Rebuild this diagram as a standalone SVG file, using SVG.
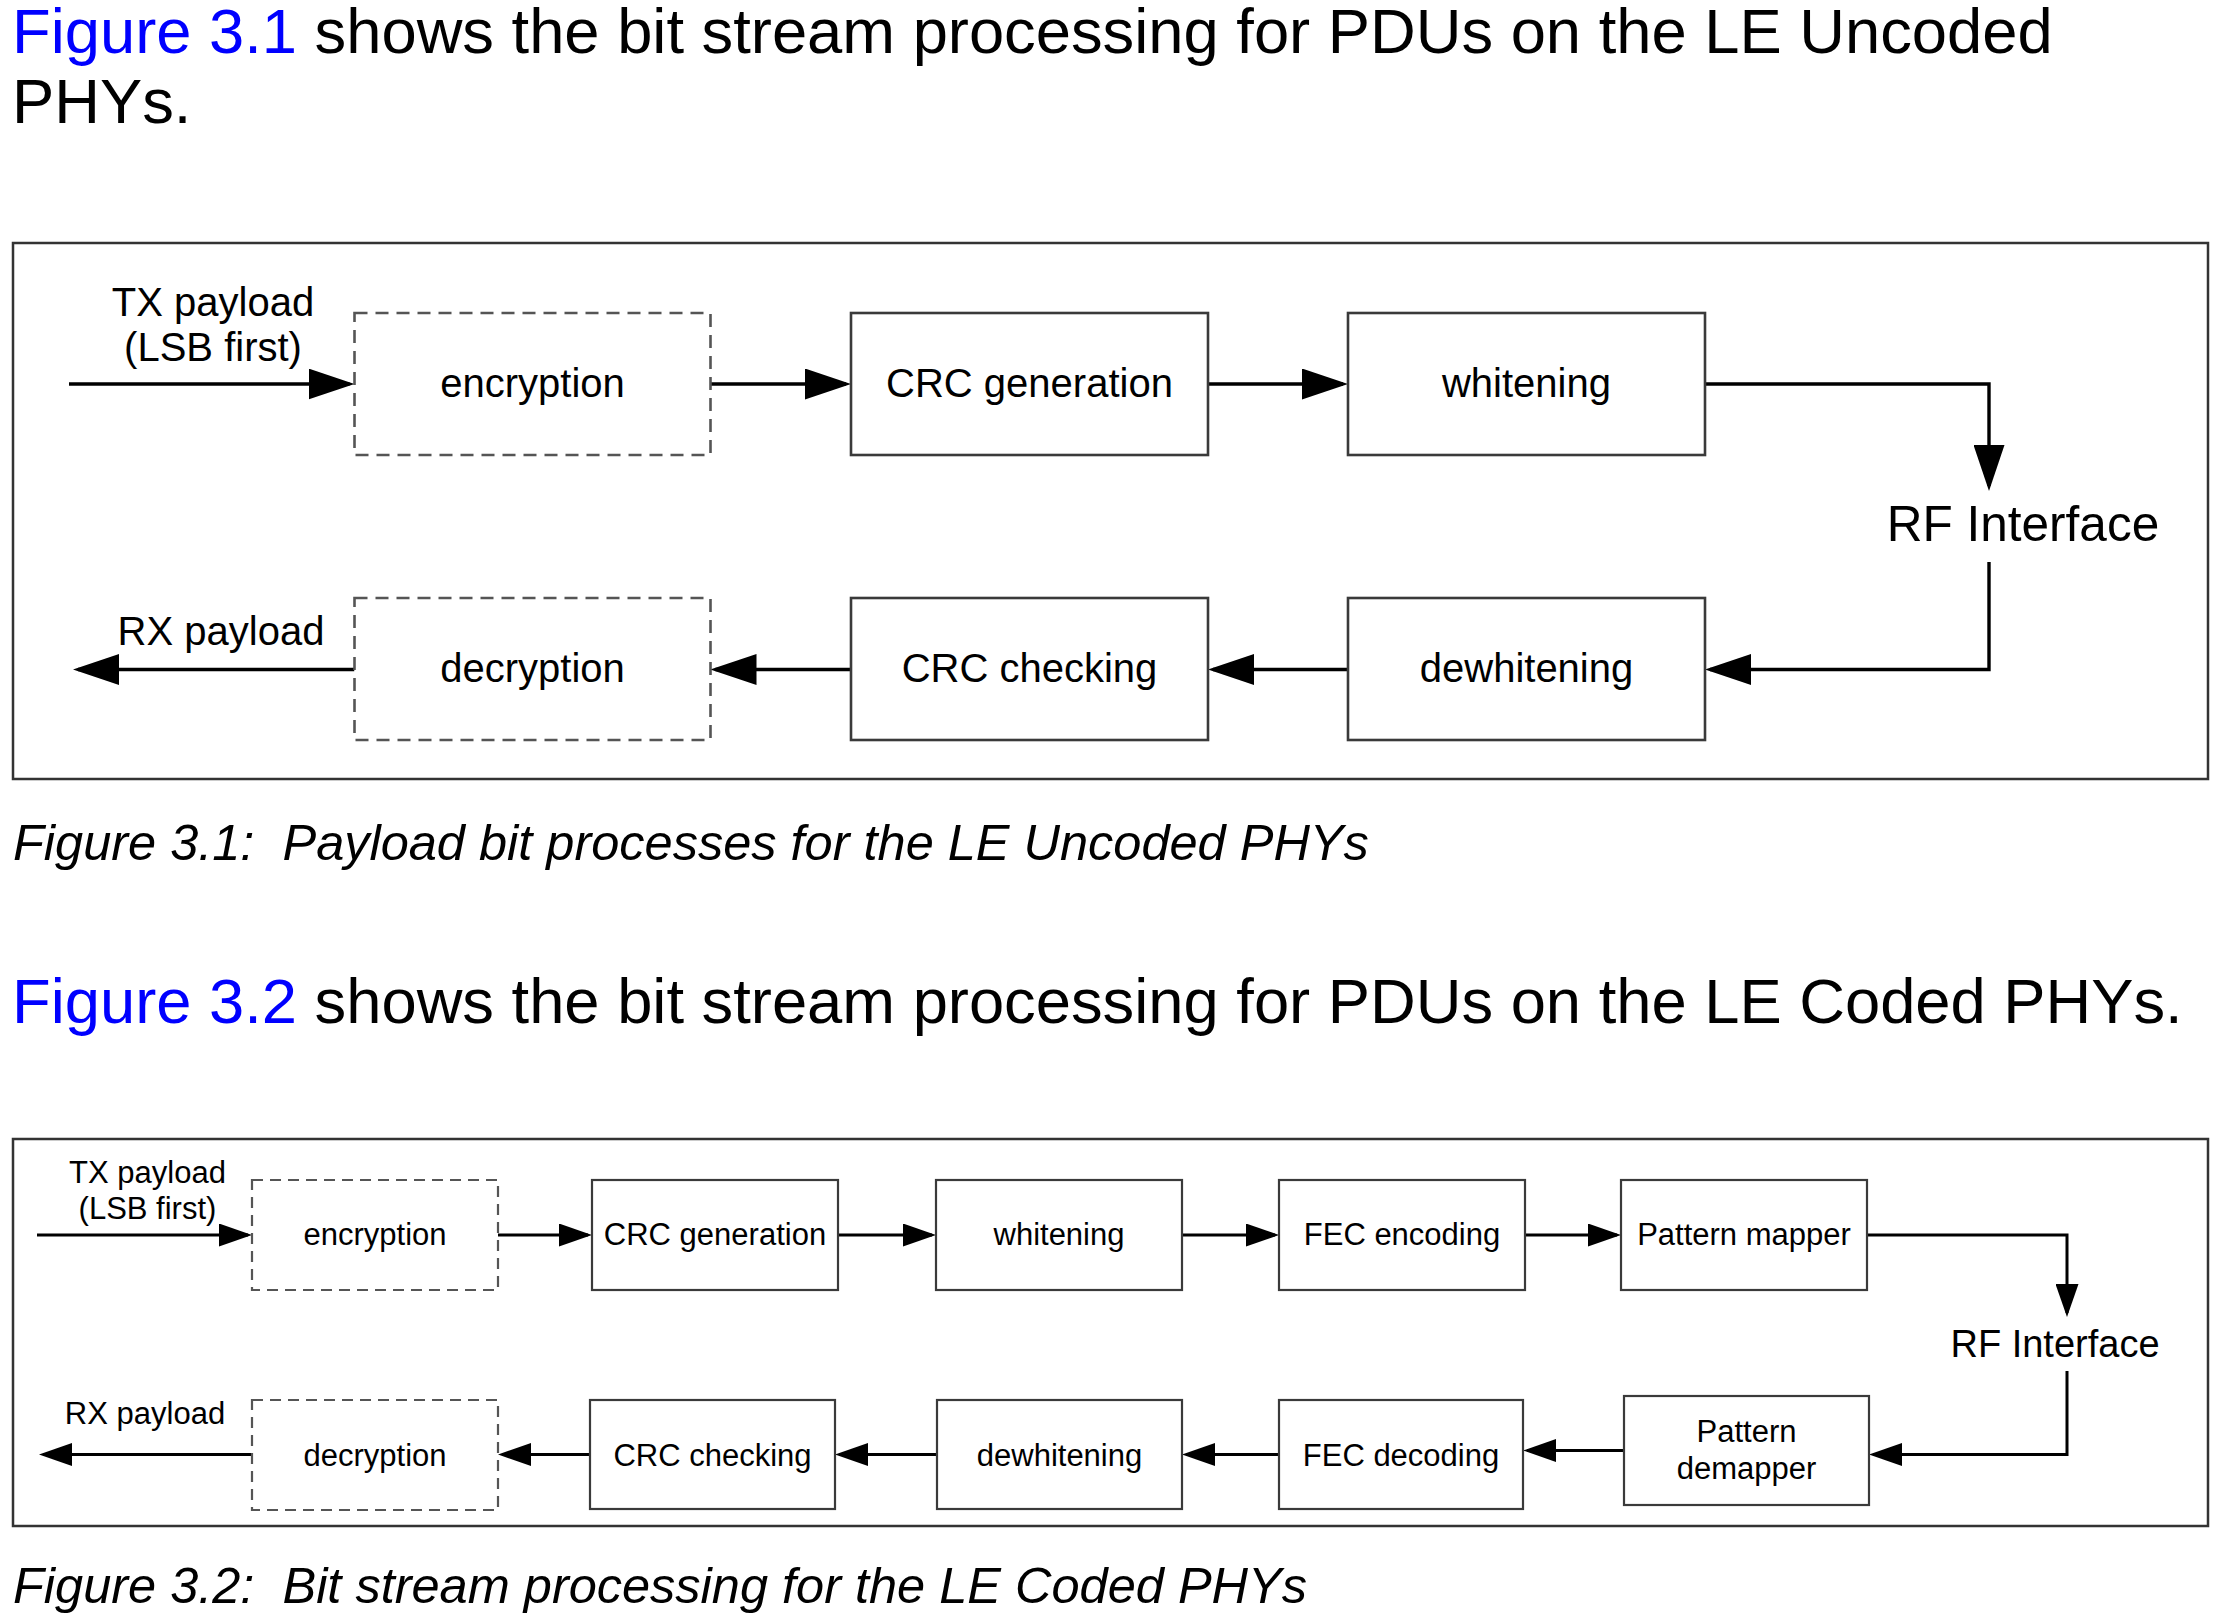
<svg xmlns="http://www.w3.org/2000/svg" width="2224" height="1624" viewBox="0 0 2224 1624">
<defs>
<style>
text{font-family:"Liberation Sans",Arial,sans-serif;fill:#000}
.h{font-size:63.3px}
.blue{fill:#0000ff}
.cap{font-size:50.5px;font-style:italic}
.t1{font-size:40px;text-anchor:middle}
.t2{font-size:31px;text-anchor:middle}
.rf1{font-size:49.5px;text-anchor:middle}
.rf2{font-size:38px;text-anchor:middle}
.frame{fill:none;stroke:#333;stroke-width:2.5}
.box1{fill:#fff;stroke:#3a3a3a;stroke-width:2.6}
.box2{fill:#fff;stroke:#3a3a3a;stroke-width:2.2}
.dash1{fill:#fff;stroke:#555;stroke-width:2.6;stroke-dasharray:13 8}
.dash2{fill:#fff;stroke:#555;stroke-width:2.2;stroke-dasharray:11 7}
.c1{fill:none;stroke:#000;stroke-width:3.4;marker-end:url(#a1)}
.c2{fill:none;stroke:#000;stroke-width:3;marker-end:url(#a2)}
</style>
<marker id="a1" markerUnits="userSpaceOnUse" markerWidth="46" markerHeight="31" refX="41" refY="15.5" orient="auto">
<path d="M0,0 L46,15.5 L0,31 z" fill="#000"/>
</marker>
<marker id="a2" markerUnits="userSpaceOnUse" markerWidth="33" markerHeight="23" refX="29" refY="11.5" orient="auto">
<path d="M0,0 L33,11.5 L0,23 z" fill="#000"/>
</marker>
</defs>
<rect width="2224" height="1624" fill="#fff"/>

<g id="heading1">
<text class="h" x="12" y="53"><tspan class="blue">Figure 3.1</tspan> shows the bit stream processing for PDUs on the LE Uncoded</text>
<text class="h" x="12" y="123">PHYs.</text>
</g>

<!-- Figure 3.1 -->
<rect id="frame1" class="frame" x="13" y="243" width="2195" height="536"/>
<g id="fig1-connectors">
<path class="c1" d="M69,384 H349.5"/>
<path class="c1" d="M710.5,384 H846"/>
<path class="c1" d="M1208,384 H1343"/>
<path class="c1" d="M1705,384 H1989 V486"/>
<path class="c1" d="M1989,562 V669.5 H1710"/>
<path class="c1" d="M1348,669.5 H1213"/>
<path class="c1" d="M851,669.5 H715.5"/>
<path class="c1" d="M354.5,669.5 H78"/>
</g>
<g id="fig1-tx-label">
<text class="t1" x="213" y="316">TX payload</text>
<text class="t1" x="213" y="361">(LSB first)</text>
</g>
<g id="fig1-rx-label"><text class="t1" x="221" y="645">RX payload</text></g>
<g id="fig1-encryption"><rect class="dash1" x="354.5" y="313" width="356" height="142"/><text class="t1" x="532.5" y="397">encryption</text></g>
<g id="fig1-crc-generation"><rect class="box1" x="851" y="313" width="357" height="142"/><text class="t1" x="1029.5" y="397">CRC generation</text></g>
<g id="fig1-whitening"><rect class="box1" x="1348" y="313" width="357" height="142"/><text class="t1" x="1526.5" y="397">whitening</text></g>
<g id="fig1-rf"><text class="rf1" x="2023" y="541">RF Interface</text></g>
<g id="fig1-dewhitening"><rect class="box1" x="1348" y="598" width="357" height="142"/><text class="t1" x="1526.5" y="682">dewhitening</text></g>
<g id="fig1-crc-checking"><rect class="box1" x="851" y="598" width="357" height="142"/><text class="t1" x="1029.5" y="682">CRC checking</text></g>
<g id="fig1-decryption"><rect class="dash1" x="354.5" y="598" width="356" height="142"/><text class="t1" x="532.5" y="682">decryption</text></g>

<g id="caption1"><text class="cap" x="13" y="860" xml:space="preserve">Figure 3.1:  Payload bit processes for the LE Uncoded PHYs</text></g>

<g id="heading2">
<text class="h" x="12" y="1023"><tspan class="blue">Figure 3.2</tspan> shows the bit stream processing for PDUs on the LE Coded PHYs.</text>
</g>

<!-- Figure 3.2 -->
<rect id="frame2" class="frame" x="13" y="1139" width="2195" height="387"/>
<g id="fig2-connectors">
<path class="c2" d="M37,1235 H248"/>
<path class="c2" d="M498,1235 H588"/>
<path class="c2" d="M838,1235 H932"/>
<path class="c2" d="M1182,1235 H1275"/>
<path class="c2" d="M1525,1235 H1617"/>
<path class="c2" d="M1867,1235 H2067 V1313"/>
<path class="c2" d="M2067,1371 V1454.5 H1873"/>
<path class="c2" d="M1624,1450.5 H1527"/>
<path class="c2" d="M1279,1454.5 H1186"/>
<path class="c2" d="M937,1454.5 H839"/>
<path class="c2" d="M590,1454.5 H502"/>
<path class="c2" d="M252,1454.5 H43"/>
</g>
<g id="fig2-tx-label">
<text class="t2" x="147.5" y="1183">TX payload</text>
<text class="t2" x="147.5" y="1219">(LSB first)</text>
</g>
<g id="fig2-rx-label"><text class="t2" x="145" y="1424">RX payload</text></g>
<g id="fig2-encryption"><rect class="dash2" x="252" y="1180" width="246" height="110"/><text class="t2" x="375" y="1245">encryption</text></g>
<g id="fig2-crc-generation"><rect class="box2" x="592" y="1180" width="246" height="110"/><text class="t2" x="715" y="1245">CRC generation</text></g>
<g id="fig2-whitening"><rect class="box2" x="936" y="1180" width="246" height="110"/><text class="t2" x="1059" y="1245">whitening</text></g>
<g id="fig2-fec-encoding"><rect class="box2" x="1279" y="1180" width="246" height="110"/><text class="t2" x="1402" y="1245">FEC encoding</text></g>
<g id="fig2-pattern-mapper"><rect class="box2" x="1621" y="1180" width="246" height="110"/><text class="t2" x="1744" y="1245">Pattern mapper</text></g>
<g id="fig2-rf"><text class="rf2" x="2055" y="1357">RF Interface</text></g>
<g id="fig2-pattern-demapper"><rect class="box2" x="1624" y="1396" width="245" height="109"/><text class="t2" x="1746.5" y="1442">Pattern</text><text class="t2" x="1746.5" y="1479">demapper</text></g>
<g id="fig2-fec-decoding"><rect class="box2" x="1279" y="1400" width="244" height="109"/><text class="t2" x="1401" y="1466">FEC decoding</text></g>
<g id="fig2-dewhitening"><rect class="box2" x="937" y="1400" width="245" height="109"/><text class="t2" x="1059.5" y="1466">dewhitening</text></g>
<g id="fig2-crc-checking"><rect class="box2" x="590" y="1400" width="245" height="109"/><text class="t2" x="712.5" y="1466">CRC checking</text></g>
<g id="fig2-decryption"><rect class="dash2" x="252" y="1400" width="246" height="110"/><text class="t2" x="375" y="1466">decryption</text></g>

<g id="caption2"><text class="cap" x="13" y="1603" xml:space="preserve">Figure 3.2:  Bit stream processing for the LE Coded PHYs</text></g>
</svg>
